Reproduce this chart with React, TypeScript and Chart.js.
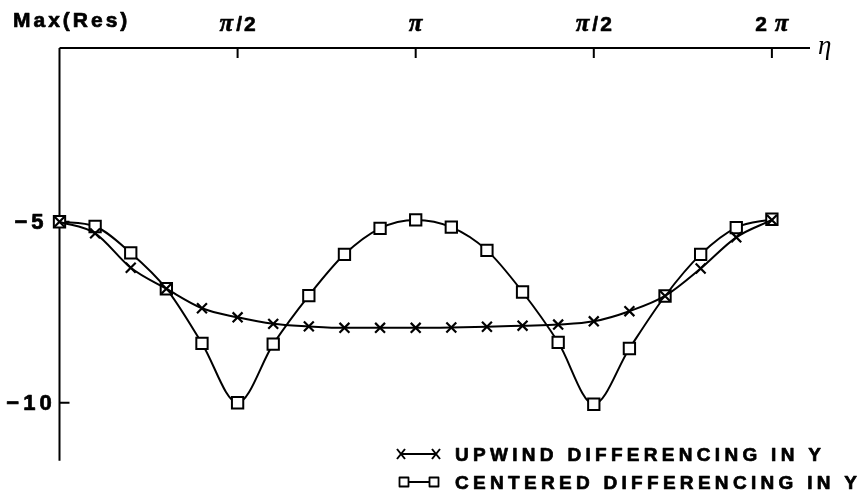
import { useEffect, useRef } from 'react';
import { Chart, registerables } from 'chart.js';

Chart.register(...registerables);

// η / π at each computed point
const etaOverPi = [0, 0.1, 0.2, 0.3, 0.4, 0.5, 0.6, 0.7, 0.8, 0.9, 1.0, 1.1, 1.2, 1.3, 1.4, 1.5, 1.6, 1.7, 1.8, 1.9, 2.0];

const upwind = [-5.0, -5.32, -6.27, -6.85, -7.39, -7.64, -7.82, -7.89, -7.93, -7.93, -7.93, -7.92, -7.9, -7.87, -7.84, -7.75, -7.47, -7.05, -6.29, -5.43, -4.95];
const centered = [-5.0, -5.13, -5.86, -6.85, -8.36, -10.0, -8.38, -7.04, -5.9, -5.18, -4.95, -5.15, -5.79, -6.94, -8.33, -10.04, -8.5, -7.05, -5.9, -5.16, -4.93];

const seriesLabels = ['UPWIND DIFFERENCING IN Y', 'CENTERED DIFFERENCING IN Y'];

const xTickValues = [0.5, 1.0, 1.5, 2.0];
const xTickLabels = ['π/2', 'π', 'π/2', '2 π'];
const yTickValues = [-5, -10];
const yTickLabels = ['−5', '−10'];

const yAxisTitle = 'Max(Res)';
const xAxisTitle = 'η';

const X_MIN = 0;
const X_MAX = 2.107;
const Y_MIN = -11.6;
const Y_MAX = -0.2;

const SANS = '"Liberation Sans", Arial, sans-serif';
const SERIF = '"Liberation Serif", "Times New Roman", serif';

function setSpacing(ctx: CanvasRenderingContext2D, px: number) {
  (ctx as any).letterSpacing = px + 'px';
}

// filled text with a thin outline so it reads as heavy as the printed original
function heavyText(ctx: CanvasRenderingContext2D, text: string, x: number, y: number, weight = 0.7) {
  ctx.fillText(text, x, y);
  ctx.lineWidth = weight;
  ctx.lineJoin = 'round';
  ctx.strokeText(text, x, y);
}

function drawCross(ctx: CanvasRenderingContext2D, x: number, y: number, hw: number, hh: number) {
  ctx.beginPath();
  ctx.moveTo(x - hw, y - hh);
  ctx.lineTo(x + hw, y + hh);
  ctx.moveTo(x + hw, y - hh);
  ctx.lineTo(x - hw, y + hh);
  ctx.stroke();
}

function drawSquare(ctx: CanvasRenderingContext2D, x: number, y: number, h: number) {
  ctx.fillStyle = '#fff';
  ctx.fillRect(x - h, y - h, 2 * h, 2 * h);
  ctx.strokeRect(x - h, y - h, 2 * h, 2 * h);
  ctx.fillStyle = '#000';
}

// draws a label where π is an italic serif glyph, centered at cx
function drawPiLabel(ctx: CanvasRenderingContext2D, text: string, cx: number, baseline: number) {
  const parts: { t: string; font: string; sp: number }[] = [];
  for (const ch of text) {
    if (ch === 'π') parts.push({ t: ch, font: `italic bold 25px ${SERIF}`, sp: 3 });
    else if (ch === ' ') parts.push({ t: ch, font: `bold 21px ${SANS}`, sp: 0 });
    else parts.push({ t: ch, font: `bold 21px ${SANS}`, sp: 2 });
  }
  let total = 0;
  const widths: number[] = [];
  for (const p of parts) {
    ctx.font = p.font;
    setSpacing(ctx, 0);
    const w = ctx.measureText(p.t).width + p.sp;
    widths.push(w);
    total += w;
  }
  total -= parts.length ? parts[parts.length - 1].sp : 0;
  let x = cx - total / 2;
  ctx.textAlign = 'left';
  ctx.textBaseline = 'alphabetic';
  parts.forEach((p, i) => {
    ctx.font = p.font;
    setSpacing(ctx, 0);
    heavyText(ctx, p.t, x, baseline, 0.6);
    x += widths[i];
  });
}

const axesPlugin = {
  id: 'paperAxes',
  beforeDatasetsDraw(chart: any) {
    const ctx: CanvasRenderingContext2D = chart.ctx;
    const xs = chart.scales.x;
    const ys = chart.scales.y;
    const left = xs.getPixelForValue(X_MIN);
    const right = xs.getPixelForValue(X_MAX);
    const top = ys.getPixelForValue(Y_MAX);
    const bottom = ys.getPixelForValue(Y_MIN);
    ctx.save();
    ctx.strokeStyle = '#000';
    ctx.lineWidth = 2;
    ctx.beginPath();
    ctx.moveTo(left, top);
    ctx.lineTo(right, top);
    ctx.moveTo(left, top);
    ctx.lineTo(left, bottom);
    ctx.stroke();
    // inward tick marks
    ctx.lineWidth = 2;
    ctx.beginPath();
    xTickValues.forEach((v) => {
      const px = xs.getPixelForValue(v);
      ctx.moveTo(px, top);
      ctx.lineTo(px, top + 10);
    });
    yTickValues.forEach((v) => {
      const py = ys.getPixelForValue(v);
      ctx.moveTo(left, py);
      ctx.lineTo(left + 10, py);
    });
    ctx.stroke();
    ctx.restore();
  },
  afterDraw(chart: any) {
    const ctx: CanvasRenderingContext2D = chart.ctx;
    const xs = chart.scales.x;
    const ys = chart.scales.y;
    const right = xs.getPixelForValue(X_MAX);
    const top = ys.getPixelForValue(Y_MAX);
    ctx.save();
    ctx.fillStyle = '#000';
    ctx.strokeStyle = '#000';

    // y axis title
    ctx.font = `bold 21px ${SANS}`;
    setSpacing(ctx, 3);
    ctx.textAlign = 'left';
    ctx.textBaseline = 'alphabetic';
    heavyText(ctx, yAxisTitle, 13, 27);

    // x tick labels
    xTickValues.forEach((v, i) => {
      drawPiLabel(ctx, xTickLabels[i], xs.getPixelForValue(v), 31);
    });

    // x axis title
    ctx.font = `italic 27px ${SERIF}`;
    setSpacing(ctx, 0);
    ctx.textAlign = 'left';
    ctx.fillText(xAxisTitle, right + 8, top + 6);

    // y tick labels (centered in the left margin)
    ctx.font = `bold 22px ${SANS}`;
    setSpacing(ctx, 4);
    ctx.textAlign = 'center';
    ctx.textBaseline = 'middle';
    yTickValues.forEach((v, i) => {
      heavyText(ctx, yTickLabels[i], 31, ys.getPixelForValue(v) + 1);
    });

    // legend
    const baselines = [461, 489];
    seriesLabels.forEach((label, i) => {
      const b = baselines[i];
      const cy = b - 7;
      const m1 = i === 0 ? 401 : 404;
      const m2 = i === 0 ? 436 : 434;
      ctx.lineWidth = 2;
      ctx.beginPath();
      ctx.moveTo(m1, cy);
      ctx.lineTo(m2, cy);
      ctx.stroke();
      if (i === 0) {
        drawCross(ctx, m1, cy, 4, 5);
        drawCross(ctx, m2, cy, 4, 5);
      } else {
        ctx.lineWidth = 1.8;
        drawSquare(ctx, m1, cy, 4.5);
        drawSquare(ctx, m2, cy, 4.5);
      }
      ctx.fillStyle = '#000';
      ctx.font = `bold 19px ${SANS}`;
      setSpacing(ctx, 4.3);
      ctx.textAlign = 'left';
      ctx.textBaseline = 'alphabetic';
      heavyText(ctx, label, 455, b);
    });
    ctx.restore();
  },
};

export default function App() {
  const ref = useRef<HTMLCanvasElement>(null);
  useEffect(() => {
    const canvas = ref.current;
    if (!canvas) return;
    const chart = new Chart(canvas, {
      type: 'line',
      data: {
        datasets: [
          {
            label: seriesLabels[0],
            data: etaOverPi.map((x, i) => ({ x, y: upwind[i] })),
            borderColor: '#000',
            borderWidth: 2,
            pointStyle: 'crossRot',
            pointRadius: 7,
            pointBorderWidth: 2.2,
            pointBorderColor: '#000',
            pointBackgroundColor: '#000',
            cubicInterpolationMode: 'monotone',
            fill: false,
            clip: false,
          } as any,
          {
            label: seriesLabels[1],
            data: etaOverPi.map((x, i) => ({ x, y: centered[i] })),
            borderColor: '#000',
            borderWidth: 2,
            pointStyle: 'rect',
            pointRadius: 8,
            pointBorderWidth: 2,
            pointBorderColor: '#000',
            pointBackgroundColor: '#fff',
            cubicInterpolationMode: 'monotone',
            fill: false,
            clip: false,
          } as any,
        ],
      },
      options: {
        responsive: false,
        animation: false,
        events: [],
        layout: { padding: { left: 59.5, top: 48, right: 55, bottom: 39.3 } },
        scales: {
          x: { type: 'linear', min: X_MIN, max: X_MAX, display: false },
          y: { type: 'linear', min: Y_MIN, max: Y_MAX, display: false },
        },
        plugins: {
          legend: { display: false },
          tooltip: { enabled: false },
        },
      },
      plugins: [axesPlugin],
    });
    return () => chart.destroy();
  }, []);

  return (
    <div style={{ position: 'absolute', left: 0, top: 0, width: 865, height: 500, background: '#fff' }}>
      <canvas ref={ref} width={865} height={500} style={{ display: 'block', width: 865, height: 500 }} />
    </div>
  );
}
